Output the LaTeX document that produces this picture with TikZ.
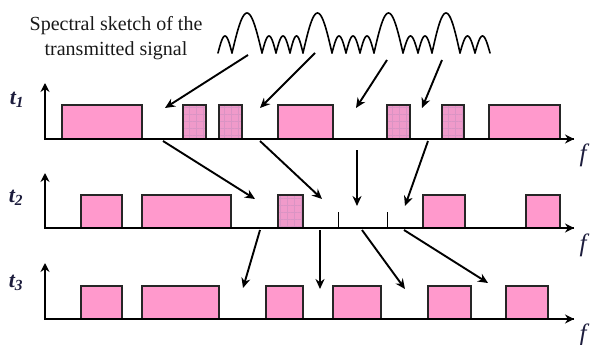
\documentclass[tikz,border=0pt]{standalone}
\usepackage{fontspec}
\setmainfont{Liberation Serif}
\usetikzlibrary{arrows.meta, patterns.meta}
\definecolor{bandPink}{HTML}{FF99CC}
\definecolor{bandHatch}{HTML}{F09ACA}
\definecolor{gridPink}{HTML}{DA94C4}
\definecolor{edgeGray}{HTML}{262626}
\definecolor{labelNavy}{HTML}{1C1C3C}
\tikzset{
  axisArrow/.style={-{Stealth[length=9pt, width=9pt]}, line width=1.9pt},
  mapArrow/.style={-{Stealth[length=10pt, width=9pt]}, line width=1.9pt},
  band/.style={fill=bandPink, draw=edgeGray, line width=1.1pt},
  bandH/.style={preaction={fill=bandHatch},
                pattern={Hatch[angle=0, distance=7pt, line width=0.6pt]},
                pattern color=gridPink, draw=edgeGray, line width=1.1pt},
  wave/.style={line width=1.6pt, line join=round, line cap=round},
  tlabel/.style={font=\fontsize{22}{22}\selectfont\bfseries\itshape, text=labelNavy},
  flabel/.style={font=\fontsize{25}{25}\selectfont\itshape, text=labelNavy},
}
\begin{document}
\begin{tikzpicture}[x=1pt, y=-1pt]
  \useasboundingbox (0,0) rectangle (592,345);

  % caption and spectral sketch
  \node[font=\fontsize{20}{25}\selectfont, align=center, text=black!90] (cap)
    at (116,38) {Spectral sketch of the\\transmitted signal};
  \foreach \a/\b/\h in {218/232/17, 232/262/40, 262/276/17, 276/290/17,
      290/303/17, 303/332/40, 332/346/17, 346/360/17, 360/374/17,
      374/403/40, 403/418/17, 418/432/17, 432/460/40, 460/475/17, 475/490/17}
    \draw[wave] plot[domain=\a:\b, samples=25]
      (\x, {53 - \h*sin(180*(\x-\a)/(\b-\a))});

  % row t1
  \foreach \a/\b in {62/142, 278/333, 489/560}
    \draw[band] (\a,105) rectangle (\b,139);
  \foreach \a/\b in {183/206, 219/242, 387/410, 442/464}
    \draw[bandH] (\a,105) rectangle (\b,139);

  % row t2
  \foreach \a/\b in {81/122, 142/231, 423/465, 526/560}
    \draw[band] (\a,195) rectangle (\b,228);
  \draw[bandH] (278,195) rectangle (303,228);
  \foreach \a in {338, 387}
    \draw[line width=0.9pt] (\a,212) -- (\a,228);

  % row t3
  \foreach \a/\b in {81/122, 142/219, 266/303, 333/381, 428/471, 506/548}
    \draw[band] (\a,286) rectangle (\b,319);

  % axes
  \coordinate (o1) at (45,139); \coordinate (y1) at (45,83);  \coordinate (x1) at (574,139);
  \coordinate (o2) at (45,228); \coordinate (y2) at (45,173); \coordinate (x2) at (574,228);
  \coordinate (o3) at (45,319); \coordinate (y3) at (45,263); \coordinate (x3) at (574,319);
  \draw[axisArrow] (x1) -- (o1) -- (y1);
  \draw[axisArrow] (x2) -- (o2) -- (y2);
  \draw[axisArrow] (x3) -- (o3) -- (y3);
  \draw[axisArrow] (o1) -- (x1);
  \draw[axisArrow] (o2) -- (x2);
  \draw[axisArrow] (o3) -- (x3);

  \node[tlabel] (t1) at (17,100) {t\textsubscript{1}};
  \node[tlabel] (t2) at (16,198) {t\textsubscript{2}};
  \node[tlabel] (t3) at (16,283) {t\textsubscript{3}};
  \node[flabel] (f1) at (583,155) {f};
  \node[flabel] (f2) at (583,245) {f};
  \node[flabel] (f3) at (583,335) {f};

  % sketch -> t1
  \coordinate (ws1) at (248,55);  \coordinate (we1) at (165,108);
  \coordinate (ws2) at (315,53);  \coordinate (we2) at (260,108);
  \coordinate (ws3) at (387,60);  \coordinate (we3) at (356,108);
  \coordinate (ws4) at (442,60);  \coordinate (we4) at (422,108);
  \draw[mapArrow] (ws1) -- (we1);
  \draw[mapArrow] (ws2) -- (we2);
  \draw[mapArrow] (ws3) -- (we3);
  \draw[mapArrow] (ws4) -- (we4);

  % t1 -> t2
  \coordinate (as1) at (163,141); \coordinate (ae1) at (255,199);
  \coordinate (as2) at (260,141); \coordinate (ae2) at (322,199);
  \coordinate (as3) at (357,150); \coordinate (ae3) at (357,206);
  \coordinate (as4) at (428,141); \coordinate (ae4) at (405,206);
  \draw[mapArrow] (as1) -- (ae1);
  \draw[mapArrow] (as2) -- (ae2);
  \draw[mapArrow] (as3) -- (ae3);
  \draw[mapArrow] (as4) -- (ae4);

  % t2 -> t3
  \coordinate (bs1) at (260,230); \coordinate (be1) at (243,288);
  \coordinate (bs2) at (320,230); \coordinate (be2) at (320,289);
  \coordinate (bs3) at (362,230); \coordinate (be3) at (405,289);
  \coordinate (bs4) at (404,230); \coordinate (be4) at (488,283);
  \draw[mapArrow] (bs1) -- (be1);
  \draw[mapArrow] (bs2) -- (be2);
  \draw[mapArrow] (bs3) -- (be3);
  \draw[mapArrow] (bs4) -- (be4);
\end{tikzpicture}
\end{document}
